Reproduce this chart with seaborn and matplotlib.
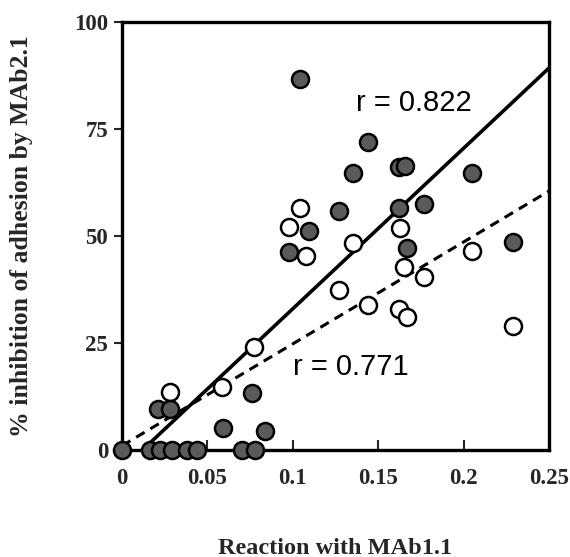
import numpy as np
import pandas as pd
import matplotlib
matplotlib.use("Agg")
import matplotlib.pyplot as plt
import seaborn as sns

# Filled series
filled_x = [0.0, 0.0164, 0.022, 0.029, 0.038, 0.044, 0.070, 0.078,
            0.021, 0.028, 0.059, 0.084, 0.076, 0.104, 0.144, 0.135,
            0.162, 0.1655, 0.205, 0.127, 0.162, 0.177, 0.1095, 0.098,
            0.167, 0.229]
filled_y = [0.0, 0.0, 0.0, 0.0, 0.0, 0.0, 0.0, 0.0,
            9.6, 9.6, 5.1, 4.4, 13.3, 86.7, 72.0, 64.7,
            66.1, 66.3, 64.7, 55.8, 56.5, 57.5, 51.2, 46.3,
            47.2, 48.6]

# Open series
open_x = [0.028, 0.0585, 0.077, 0.104, 0.098, 0.108, 0.163, 0.135,
          0.165, 0.177, 0.205, 0.127, 0.144, 0.162, 0.167, 0.229]
open_y = [13.6, 14.7, 24.1, 56.5, 52.1, 45.3, 51.9, 48.4,
          42.8, 40.4, 46.5, 37.4, 33.9, 32.9, 31.1, 29.0]

# Regression lines: (slope, intercept, x_start, x_end)
solid_fit = [375.0, -4.5, 0.012, 0.25]
dashed_fit = [238.0, 1.0, 0.0, 0.25]

labels_r = ["r = 0.822", "r = 0.771"]
label_pos = [(0.171, 81.0), (0.134, 19.4)]

xticks = [0, 0.05, 0.1, 0.15, 0.2, 0.25]
xticklabels = ["0", "0.05", "0.1", "0.15", "0.2", "0.25"]
yticks = [0, 25, 50, 75, 100]

sns.set_theme(style="ticks")
plt.rcParams["font.family"] = ["Liberation Serif", "DejaVu Serif"]

fig = plt.figure(figsize=(5.70, 5.57), dpi=100)
ax = fig.add_axes([122/570, 1-450/557, (549-122)/570, (450-22)/557])

# lines
for fit, ls in [(solid_fit, "-"), (dashed_fit, (0, (3.2, 2.2)))]:
    xs = np.array([fit[2], fit[3]])
    ys = fit[0]*xs + fit[1]
    ax.plot(xs, ys, color="black", lw=2.6 if ls == "-" else 2.2, linestyle=ls, zorder=2)

df_open = pd.DataFrame({"x": open_x, "y": open_y})
df_filled = pd.DataFrame({"x": filled_x, "y": filled_y})

sns.scatterplot(data=df_open, x="x", y="y", ax=ax, s=150, facecolor="white",
                edgecolor="black", linewidth=1.8, zorder=3, clip_on=False)
sns.scatterplot(data=df_filled, x="x", y="y", ax=ax, s=150, facecolor="#5a5a5a",
                edgecolor="black", linewidth=1.8, zorder=4, clip_on=False)

for txt, (tx, ty) in zip(labels_r, label_pos):
    ax.text(tx, ty, txt, ha="center", va="center", fontsize=21,
            family=["Liberation Sans", "DejaVu Sans"], color="black")

ax.set_xlim(0, 0.25)
ax.set_ylim(0, 100)
ax.set_xticks(xticks)
ax.set_xticklabels(xticklabels)
ax.set_yticks(yticks)
for sp in ax.spines.values():
    sp.set_visible(True)
    sp.set_linewidth(2.4)
    sp.set_color("black")

ax.tick_params(axis="x", direction="in", length=7, width=1.5, labelsize=16.5, pad=13)
ax.tick_params(axis="y", direction="out", length=6, width=1.5, labelsize=16.5, pad=4)
for lab in ax.get_xticklabels() + ax.get_yticklabels():
    lab.set_fontweight("bold")

ax.set_xlabel("Reaction with MAb1.1", fontsize=17.5, fontweight="bold", va="center")
ax.xaxis.set_label_coords(0.5, -0.229)
ax.set_ylabel("% inhibition of adhesion by MAb2.1", fontsize=18.5, fontweight="bold", va="center")
ax.yaxis.set_label_coords(-0.235, 0.5)

fig.savefig("out.png", dpi=100)
